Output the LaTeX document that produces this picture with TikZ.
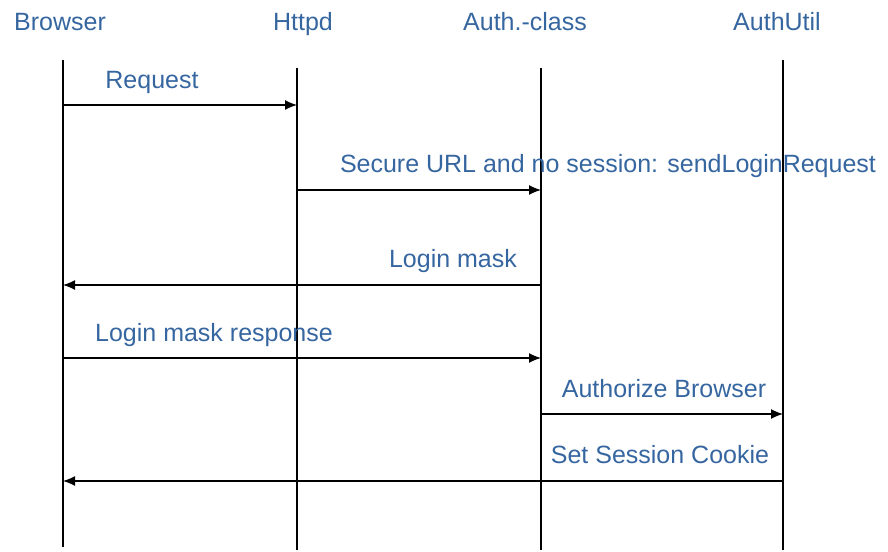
\documentclass[tikz,border=0pt]{standalone}
\usepackage{fontspec}
\setmainfont{Liberation Sans}
\usetikzlibrary{arrows.meta,positioning}
\definecolor{labelblue}{RGB}{54,102,160}
\tikzset{
  actor/.style={text=labelblue,font=\fontsize{25}{28}\selectfont,inner sep=0pt,anchor=base},
  msg/.style={text=labelblue,font=\fontsize{25}{28}\selectfont,inner sep=0pt,anchor=base},
  life/.style={line width=1.3pt},
  call/.style={line width=1.3pt,-{Latex[length=12pt,width=10pt]}}
}
\begin{document}
\begin{tikzpicture}[x=1pt,y=-1pt]
\useasboundingbox (0,0) rectangle (888,551);
\node[actor](br) at (60,31) {Browser};
\node[actor](ht) at (303,31) {Httpd};
\node[actor](au) at (525,31) {Auth.-class};
\node[actor](ut) at (777,31) {AuthUtil};
% lifelines
\coordinate(b0) at (63,60);  \coordinate(b1) at (63,547);
\coordinate(h0) at (297,68); \coordinate(h1) at (297,550);
\coordinate(a0) at (541,68); \coordinate(a1) at (541,550);
\coordinate(u0) at (783,60); \coordinate(u1) at (783,550);
\draw[life](b0)--(b1);
\draw[life](h0)--(h1);
\draw[life](a0)--(a1);
\draw[life](u0)--(u1);
% message end points
\coordinate(m1b) at (63,105);  \coordinate(m1h) at (297,105);
\coordinate(m2h) at (297,190); \coordinate(m2a) at (541,190);
\coordinate(m3a) at (541,285); \coordinate(m3b) at (63,285);
\coordinate(m4b) at (63,358);  \coordinate(m4a) at (541,358);
\coordinate(m5a) at (541,414); \coordinate(m5u) at (783,414);
\coordinate(m6u) at (783,481); \coordinate(m6b) at (63,481);
\draw[call](m1b)--(m1h);
\draw[call](m2h)--(m2a);
\draw[call](m3a)--(m3b);
\draw[call](m4b)--(m4a);
\draw[call](m5a)--(m5u);
\draw[call](m6u)--(m6b);
\node[msg](l1) at (152,88) {Request};
\node[msg](l2) at (608,172) {Secure URL and no session: sendLoginRequest};
\node[msg](l3) at (453,267) {Login mask};
\node[msg](l4) at (214,341) {Login mask response};
\node[msg](l5) at (664,397) {Authorize Browser};
\node[msg](l6) at (660,463) {Set Session Cookie};
\end{tikzpicture}
\end{document}
